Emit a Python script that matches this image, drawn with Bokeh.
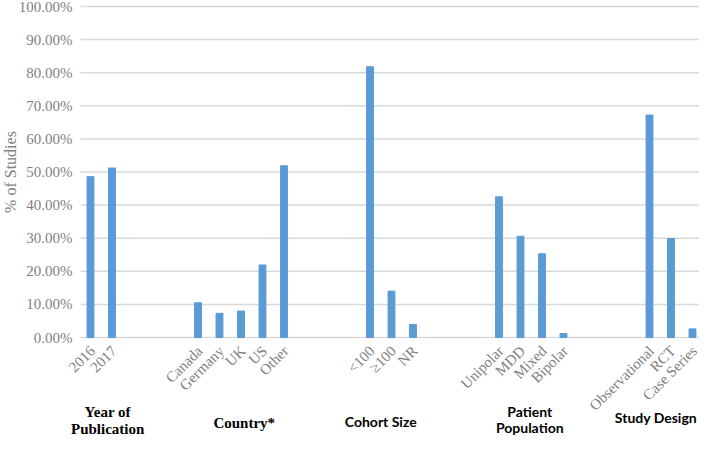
import math
from bokeh.plotting import figure
from bokeh.models import Range1d, ColumnDataSource
from bokeh.core.properties import value
from bokeh.embed import file_html
from bokeh.resources import INLINE

# ---- data (percent of studies) ----
year_labels = ["2016", "2017"]
year_values = [48.6, 51.2]
country_labels = ["Canada", "Germany", "UK", "US", "Other"]
country_values = [10.5, 7.3, 8.0, 21.9, 51.9]
cohort_labels = ["<100", "\u2265100", "NR"]
cohort_values = [81.8, 14.0, 3.9]
population_labels = ["Unipolar", "MDD", "Mixed", "Bipolar"]
population_values = [42.5, 30.6, 25.3, 1.2]
design_labels = ["Observational", "RCT", "Case Series"]
design_values = [67.2, 29.9, 2.6]
group_names = [["Year of", "Publication"], ["Country*"], ["Cohort Size"],
               ["Patient", "Population"], ["Study Design"]]
y_ticks = [0, 10, 20, 30, 40, 50, 60, 70, 80, 90, 100]
y_axis_title = "% of Studies"

groups = [
    (year_labels, year_values),
    (country_labels, country_values),
    (cohort_labels, cohort_values),
    (population_labels, population_values),
    (design_labels, design_values),
]
GAP = 3
xs, tops, names, centers = [], [], [], []
pos = 0
for labels, vals in groups:
    idx = list(range(pos, pos + len(labels)))
    xs += idx
    tops += vals
    names += labels
    centers.append((idx[0] + idx[-1]) / 2)
    pos += len(labels) + GAP

# ---- layout constants (canvas pixels) ----
W, H = 699, 436
X0, S = 90.0, 21.5      # canvas x of first category, px per category slot
TOP, ZERO = 6.0, 337.0  # canvas y of 100% and of 0%
k = (ZERO - TOP) / 100.0

def dx(cx):
    return (cx - X0) / S

def dy(cy):
    return (ZERO - cy) / k

p = figure(width=W, height=H, output_backend="svg", toolbar_location=None,
           x_range=Range1d(dx(0), dx(W)), y_range=Range1d(dy(H), dy(0)),
           x_axis_type=None, y_axis_type=None,
           min_border=0, min_border_left=0, min_border_right=0,
           min_border_top=0, min_border_bottom=0)
p.outline_line_color = None
p.xgrid.grid_line_color = None
p.ygrid.grid_line_color = None

gray = "#7F7F7F"
serif = value("Liberation Serif")

# horizontal value grid (at the y ticks)
gx0, gx1 = dx(80), dx(W)
p.segment(x0=[gx0] * len(y_ticks), x1=[gx1] * len(y_ticks), y0=y_ticks, y1=y_ticks,
          line_color="#D9D9D9", line_width=1.5)

# bars
src = ColumnDataSource(dict(x=xs, top=tops))
p.vbar(x="x", top="top", width=0.32, bottom=0, source=src,
       fill_color="#5B9BD5", line_color="#5B9BD5")

# value axis tick labels and title
p.text(x=[gx0] * len(y_ticks), y=y_ticks, text=[f"{t:.2f}%" for t in y_ticks],
       x_offset=-8, text_font=serif, text_font_size="15px", text_color=gray,
       text_align="right", text_baseline="middle")
p.text(x=[dx(10)], y=[50], text=[y_axis_title], angle=math.pi / 2,
       text_font=serif, text_font_size="16px", text_color=gray,
       text_align="center", text_baseline="middle")

# category tick labels (rotated 45 degrees)
p.text(x=xs, y=[0] * len(xs), text=names, angle=math.pi / 4,
       x_offset=2, y_offset=11,
       text_font=serif, text_font_size="15px", text_color=gray,
       text_align="right", text_baseline="middle")

# group captions
offsets = [0.3, 0.15, -0.5, -0.07, -0.7]
line_cy = [[411, 428], [422], [421], [411, 427], [417]]
fonts = ["Liberation Serif", "Liberation Serif", "Lato", "Lato", "Lato"]
sizes = ["15px", "15px", "14px", "14px", "14px"]
for lines, c, off, cys, f, s in zip(group_names, centers, offsets, line_cy, fonts, sizes):
    p.text(x=[c + off] * len(lines), y=[dy(cy) for cy in cys], text=lines,
           text_font=value(f), text_font_style="bold", text_font_size=s,
           text_color="black", text_align="center", text_baseline="middle")

open("out.html", "w").write(file_html(p, INLINE))
